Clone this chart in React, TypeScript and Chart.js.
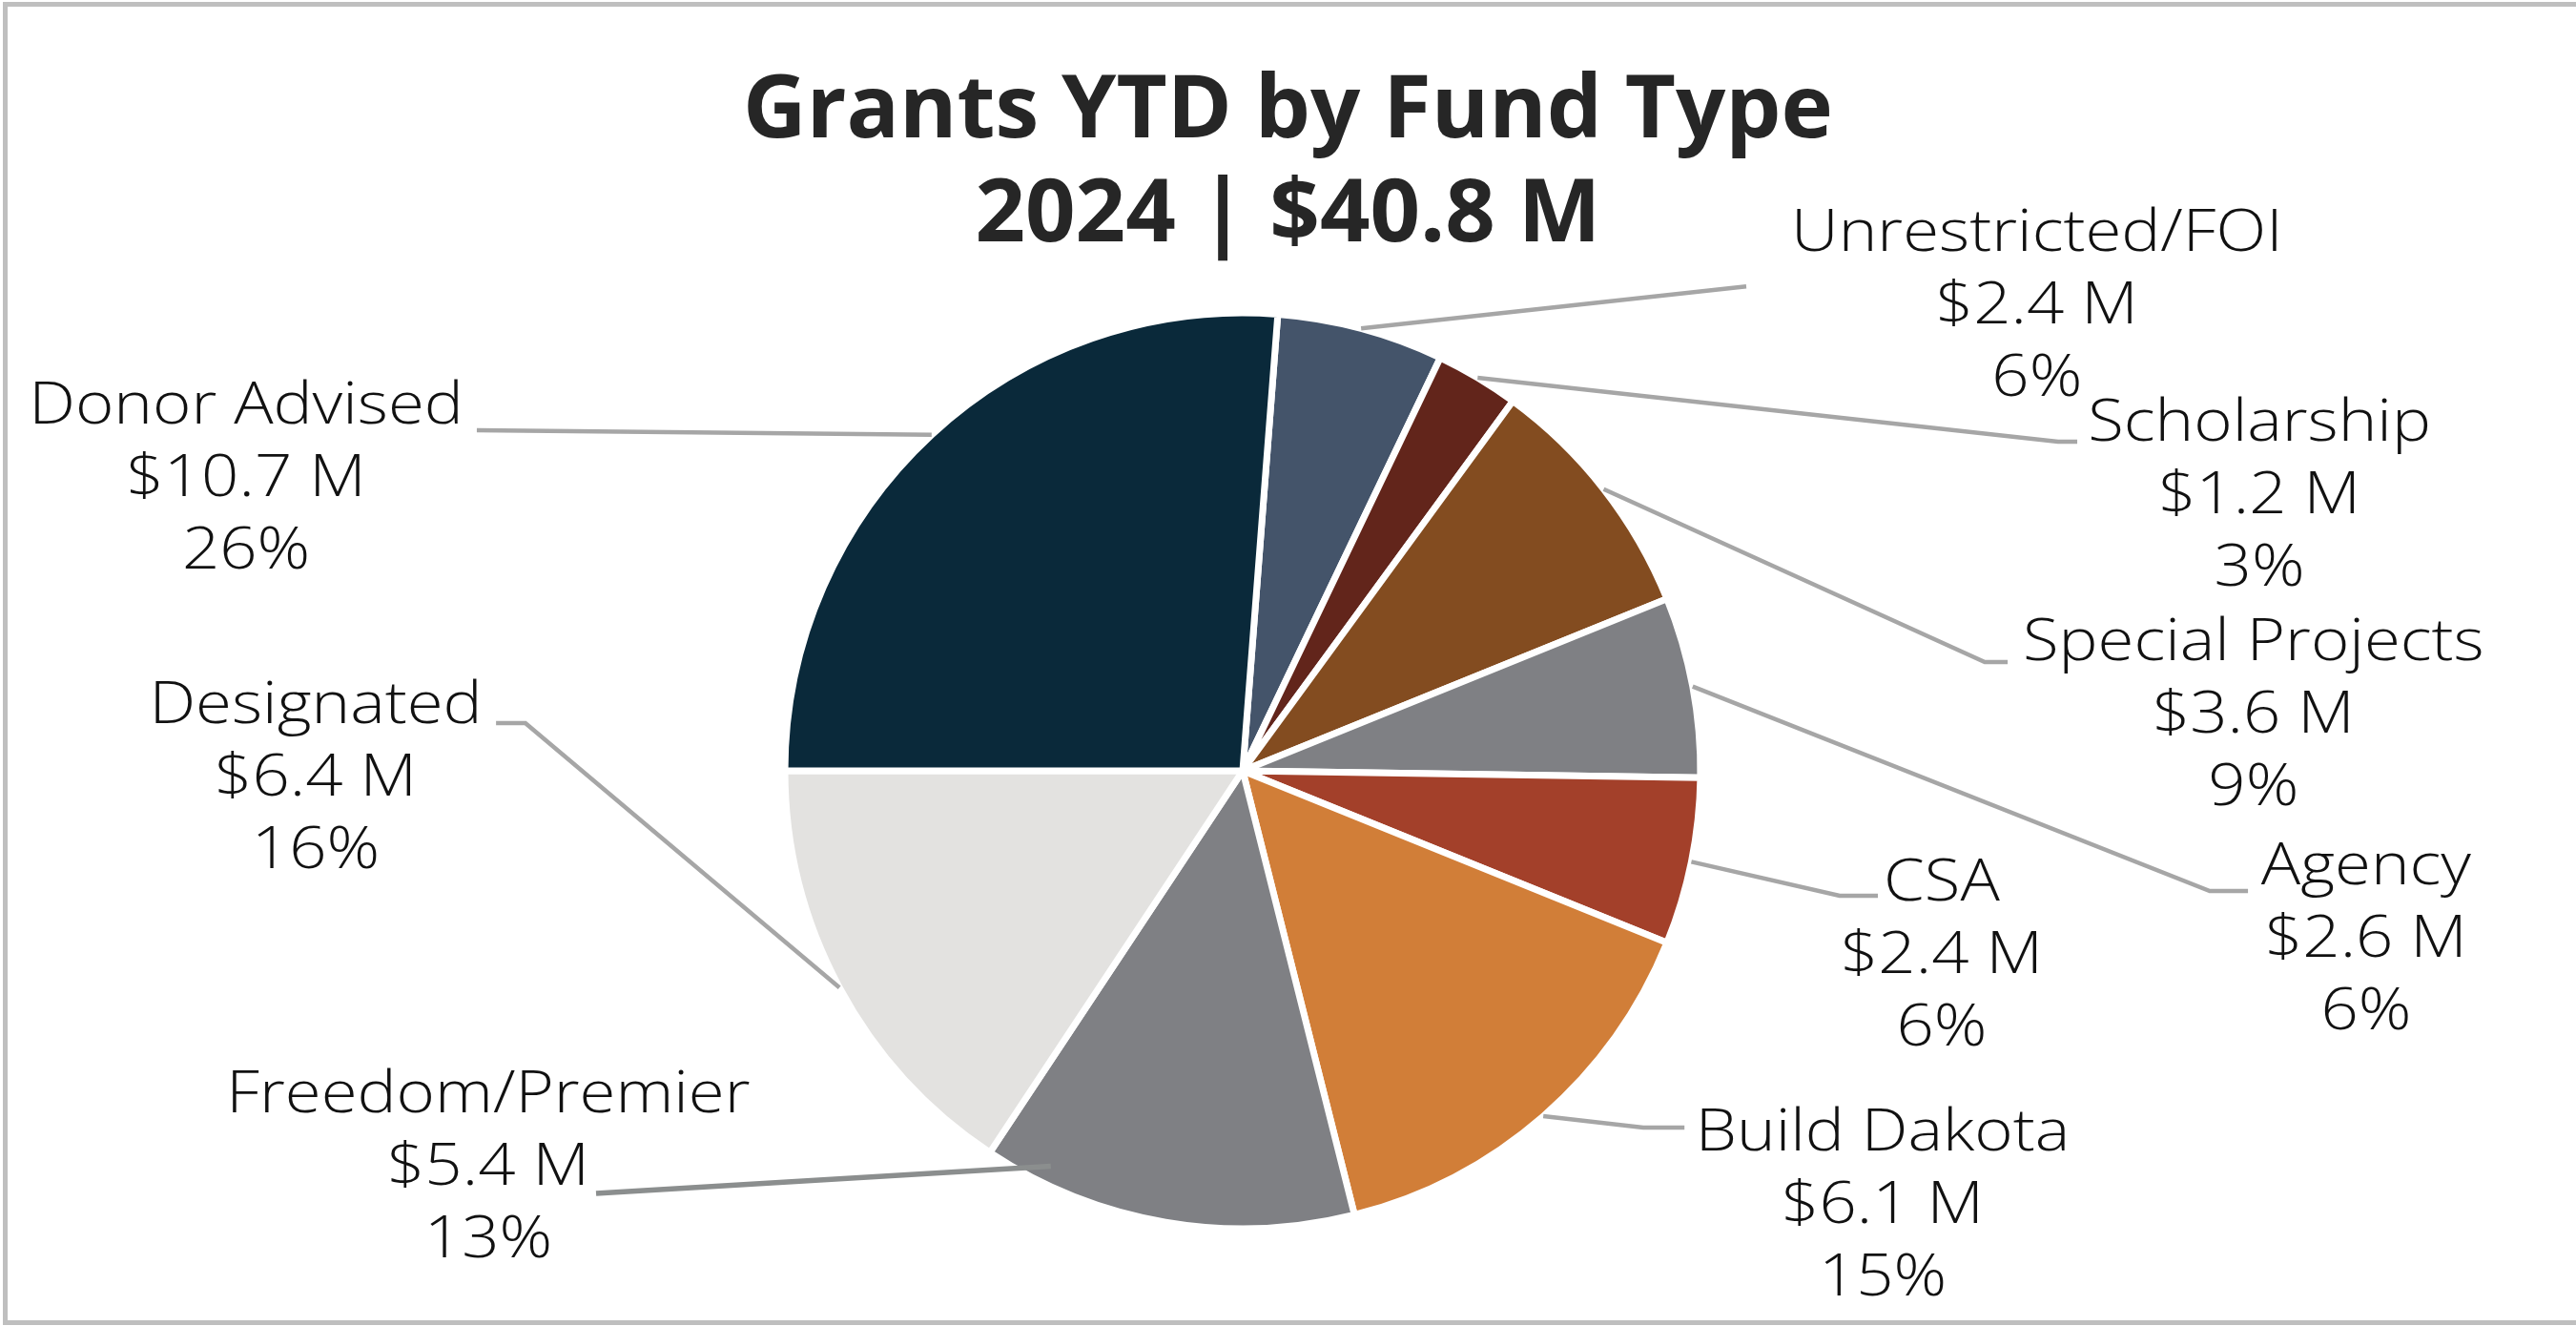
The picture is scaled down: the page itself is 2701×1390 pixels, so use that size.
import React, { useEffect, useRef } from 'react';
import { Chart, registerables } from 'chart.js';

Chart.register(...registerables);

// ---------- data ----------
const CATEGORIES = [
  'Unrestricted/FOI',
  'Scholarship',
  'Special Projects',
  'Agency',
  'CSA',
  'Build Dakota',
  'Freedom/Premier',
  'Designated',
  'Donor Advised',
];
const VALUES = [2.4, 1.2, 3.6, 2.6, 2.4, 6.1, 5.4, 6.4, 10.7];
const AMOUNT_LABELS = ['$2.4 M', '$1.2 M', '$3.6 M', '$2.6 M', '$2.4 M', '$6.1 M', '$5.4 M', '$6.4 M', '$10.7 M'];
const PERCENT_LABELS = ['6%', '3%', '9%', '6%', '6%', '15%', '13%', '16%', '26%'];
const TITLE_LINES = ['Grants YTD by Fund Type', '2024 | $40.8 M'];

// ---------- styles ----------
const COLORS = ['#44546a', '#62251b', '#834c20', '#7f8084', '#a3402a', '#d17e38', '#7f8084', '#e3e2e0', '#0a293a'];
const PIE_RADIUS = 480;
const LABEL_FONT = '300 61px "Open Sans", "Noto Sans", sans-serif';
const LABEL_STRETCH = 1.13;
const TITLE_FONT = 'bold 92px "Open Sans", "Noto Sans", sans-serif';
const LINE_GAP = 76;

// label layout, relative to pie centre in units of the pie radius
// t = first text line centre, e = elbow point, f = final point of leader line
type Layout = { tx: number; ty: number; ex: number; ey: number; fx: number; fy: number; anchor?: number; anchorR?: number; color?: string; width?: number };
const LABEL_LAYOUT: Layout[] = [
  { tx: 1.735, ty: -1.171, ex: 1.1, ey: -1.058, fx: 1.1, fy: -1.058 },
  { tx: 2.221, ty: -0.758, ex: 1.781, ey: -0.719, fx: 1.823, fy: -0.719 },
  { tx: 2.208, ty: -0.277, ex: 1.621, ey: -0.2375, fx: 1.671, fy: -0.2375 },
  { tx: 2.454, ty: 0.2125, ex: 2.1125, ey: 0.2625, fx: 2.196, fy: 0.2625 },
  { tx: 1.527, ty: 0.248, ex: 1.304, ey: 0.273, fx: 1.3875, fy: 0.273 },
  { tx: 1.398, ty: 0.794, ex: 0.875, ey: 0.779, fx: 0.965, fy: 0.779 },
  { tx: -1.648, ty: 0.71, ex: -1.4125, ey: 0.923, fx: -1.4125, fy: 0.923, anchor: 0.84, anchorR: 0.96, color: '#8b8e8e', width: 5.5 },
  { tx: -2.025, ty: -0.1396, ex: -1.567, ey: -0.104, fx: -1.631, fy: -0.104 },
  { tx: -2.177, ty: -0.794, ex: -1.673, ey: -0.744, fx: -1.673, fy: -0.744 },
];

const framePlugin = {
  id: 'frameAndTitle',
  beforeDraw(chart: any) {
    const { ctx, width, height } = chart;
    ctx.save();
    ctx.fillStyle = '#ffffff';
    ctx.fillRect(0, 0, width, height);
    ctx.strokeStyle = '#bfbfbf';
    ctx.lineWidth = 5;
    ctx.strokeRect(5.5, 4.5, width + 50, 1382);
    // title
    ctx.fillStyle = '#262626';
    ctx.font = TITLE_FONT;
    ctx.textAlign = 'center';
    ctx.textBaseline = 'middle';
    ctx.fillText(TITLE_LINES[0], width / 2, 118);
    ctx.fillText(TITLE_LINES[1], width / 2, 227);
    ctx.restore();
  },
};

const labelPlugin = {
  id: 'fundLabels',
  afterDatasetsDraw(chart: any) {
    const { ctx } = chart;
    const meta = chart.getDatasetMeta(0);
    ctx.save();
    meta.data.forEach((arc: any, i: number) => {
      const { x, y, startAngle, endAngle, outerRadius } = arc.getProps(['x', 'y', 'startAngle', 'endAngle', 'outerRadius'], true);
      const L = LABEL_LAYOUT[i];
      const R = outerRadius;
      const a = startAngle + (endAngle - startAngle) * (L.anchor ?? 0.5);
      const r = R * (L.anchorR ?? 1);
      const sx = x + r * Math.cos(a);
      const sy = y + r * Math.sin(a);
      ctx.beginPath();
      ctx.strokeStyle = L.color ?? '#a6a6a6';
      ctx.lineWidth = L.width ?? 4.5;
      ctx.lineCap = 'butt';
      ctx.lineJoin = 'miter';
      ctx.moveTo(sx, sy);
      ctx.lineTo(x + L.ex * R, y + L.ey * R);
      ctx.lineTo(x + L.fx * R, y + L.fy * R);
      ctx.stroke();

      ctx.fillStyle = '#111111';
      ctx.font = LABEL_FONT;
      ctx.textAlign = 'center';
      ctx.textBaseline = 'middle';
      const tx = x + L.tx * R;
      const ty = y + L.ty * R;
      const lines = [CATEGORIES[i], AMOUNT_LABELS[i], PERCENT_LABELS[i]];
      lines.forEach((t, k) => {
        ctx.save();
        ctx.translate(tx, ty + k * LINE_GAP);
        ctx.scale(LABEL_STRETCH, 1);
        ctx.fillText(t, 0, 0);
        ctx.restore();
      });
    });
    ctx.restore();
  },
};

export default function App() {
  const ref = useRef<HTMLCanvasElement | null>(null);
  useEffect(() => {
    document.body.style.margin = '0';
    document.body.style.overflow = 'hidden';
    const canvas = ref.current;
    if (!canvas) return;
    const chart = new Chart(canvas, {
      type: 'pie',
      data: {
        labels: CATEGORIES,
        datasets: [
          {
            data: VALUES,
            backgroundColor: COLORS,
            borderColor: '#ffffff',
            borderWidth: 7,
            radius: PIE_RADIUS,
          } as any,
        ],
      },
      options: {
        responsive: false,
        animation: false,
        devicePixelRatio: 1,
        rotation: 4.4,
        layout: { padding: { left: 300, right: 395, top: 300, bottom: 74 } },
        plugins: {
          legend: { display: false },
          tooltip: { enabled: false },
          title: { display: false },
        },
      } as any,
      plugins: [framePlugin, labelPlugin],
    });
    return () => chart.destroy();
  }, []);
  return (
    <div style={{ position: 'absolute', left: 0, top: 0, width: 2701, height: 1390 }}>
      <canvas ref={ref} width={2701} height={1390} style={{ width: 2701, height: 1390, display: 'block' }} />
    </div>
  );
}
